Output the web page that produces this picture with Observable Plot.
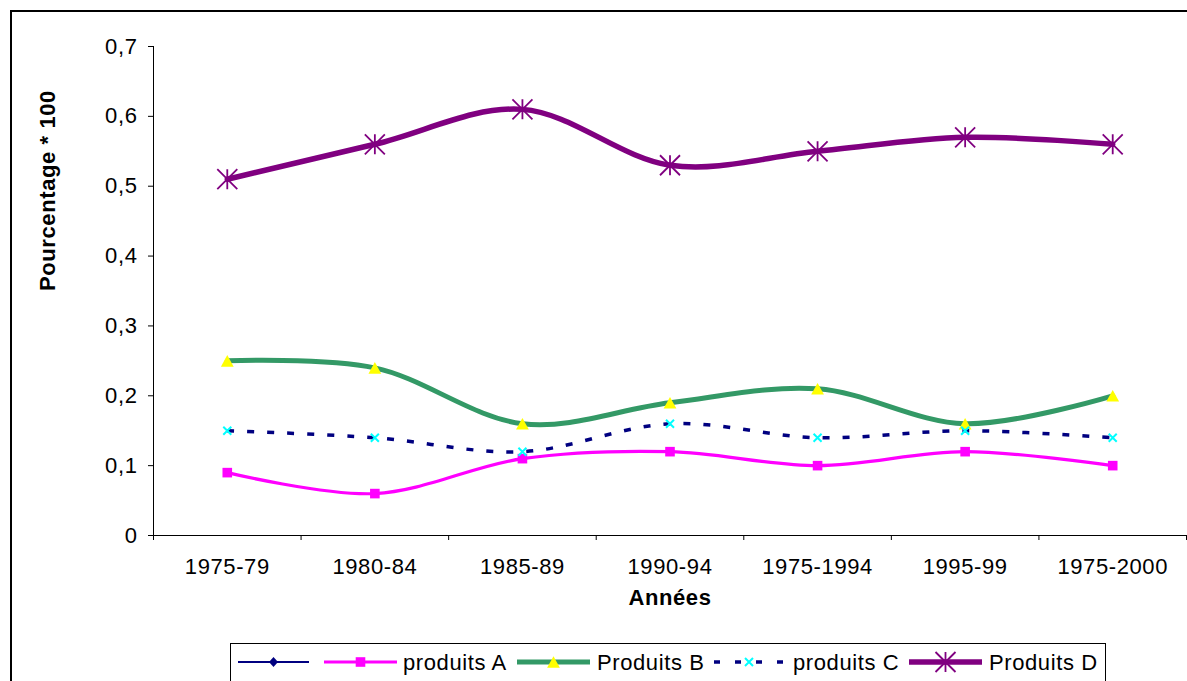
<!DOCTYPE html>
<html><head><meta charset="utf-8">
<script src="https://cdn.jsdelivr.net/npm/d3@7"></script>
<script src="https://cdn.jsdelivr.net/npm/@observablehq/plot@0.6"></script>
<style>
html,body{margin:0;padding:0;background:#fff;}
#chart{position:relative;width:1187px;height:681px;overflow:hidden;}
</style></head><body><div id="chart"></div>
<script>
const categories = ["1975-79","1980-84","1985-89","1990-94","1975-1994","1995-99","1975-2000"];
const produitsA = [0.09,0.06,0.11,0.12,0.10,0.12,0.10];
const produitsB = [0.25,0.24,0.16,0.19,0.21,0.16,0.20];
const produitsC = [0.15,0.14,0.12,0.16,0.14,0.15,0.14];
const produitsD = [0.51,0.56,0.61,0.53,0.55,0.57,0.56];
const yTicks = [0,0.1,0.2,0.3,0.4,0.5,0.6,0.7];
const legendLabels = ["", "produits A", "Produits B", "produits C", "Produits D"];
const colors = {empty:"#000080", A:"#ff00ff", B:"#339966", C:"#000080", D:"#800080"};

const rows = s => s.map((v, i) => ({i: i + 0.5, cat: categories[i], v}));
const half = size => Math.sqrt(size / Math.PI);
const sqSym = {draw(c, s){const h = half(s); c.rect(-h, -h, 2*h, 2*h);}};
const triSym = {draw(c, s){const h = half(s); c.moveTo(0, -h); c.lineTo(1.1*h, h); c.lineTo(-1.1*h, h); c.closePath();}};
const timesSym = {draw(c, s){const h = half(s); c.moveTo(-h, -h); c.lineTo(h, h); c.moveTo(-h, h); c.lineTo(h, -h);}};
const starSym = {draw(c, s){const h = half(s); c.moveTo(-h, -h); c.lineTo(h, h); c.moveTo(-h, h); c.lineTo(h, -h); c.moveTo(0, -h); c.lineTo(0, h);}};
const diaSym = {draw(c, s){const h = half(s); c.moveTo(0, -h); c.lineTo(0.9*h, 0); c.lineTo(0, h); c.lineTo(-0.9*h, 0); c.closePath();}};

const FS = 22;
const plot = Plot.plot({
  width: 1187, height: 681,
  marginLeft: 153, marginRight: 1, marginTop: 46, marginBottom: 146,
  x: {type: "linear", domain: [0, 7]},
  y: {domain: [0, 0.7]},
  style: {fontFamily: "'Liberation Sans', Arial, sans-serif", fontSize: FS + "px", color: "#000", background: "#fff", letterSpacing: "0.6px"},
  marks: [
    Plot.axisY({ticks: yTicks, tickFormat: d => d === 0 ? "0" : d.toFixed(1).replace(".", ","), tickSize: 5, tickPadding: 11, label: null, fontSize: FS, stroke: "#000", strokeOpacity: 1}),
    Plot.axisX({ticks: categories.map((c, i) => i + 0.5), tickFormat: v => categories[Math.round(v - 0.5)], tickSize: 0, tickPadding: 23, label: null, fontSize: FS}),
    Plot.axisX({ticks: d3.range(0, 8), tickFormat: () => "", tickSize: 5, label: null, stroke: "#000", strokeOpacity: 1}),
    Plot.ruleY([0], {stroke: "#000"}),
    Plot.ruleX([0], {stroke: "#000"}),
    Plot.text(["Pourcentage * 100"], {frameAnchor: "left", rotate: -90, dx: -106, fontWeight: "bold", fontSize: FS}),
    Plot.text(["Années"], {frameAnchor: "bottom", dy: 69, fontWeight: "bold", fontSize: FS}),
    Plot.line(rows(produitsA), {x: "i", y: "v", stroke: colors.A, strokeWidth: 3.2, curve: "cardinal"}),
    Plot.dot(rows(produitsA), {x: "i", y: "v", symbol: sqSym, r: 4.8, fill: colors.A, stroke: "none"}),
    Plot.line(rows(produitsB), {x: "i", y: "v", stroke: colors.B, strokeWidth: 5, curve: "cardinal"}),
    Plot.dot(rows(produitsB), {x: "i", y: "v", symbol: triSym, r: 5.8, fill: "#ffff00", stroke: "none"}),
    Plot.line(rows(produitsC), {x: "i", y: "v", stroke: colors.C, strokeWidth: 3.5, strokeDasharray: "7,13", strokeLinecap: "butt", curve: "cardinal"}),
    Plot.dot(rows(produitsC), {x: "i", y: "v", symbol: timesSym, r: 4, fill: "none", stroke: "#00ffff", strokeWidth: 2}),
    Plot.line(rows(produitsD), {x: "i", y: "v", stroke: colors.D, strokeWidth: 5.5, curve: "cardinal"}),
    Plot.dot(rows(produitsD), {x: "i", y: "v", symbol: starSym, r: 10, fill: "none", stroke: colors.D, strokeWidth: 1.8})
  ]
});

const svg = d3.select(plot);
svg.append("rect").attr("x", 11).attr("y", 11).attr("width", 1200).attr("height", 700)
  .attr("fill", "none").attr("stroke", "#000").attr("stroke-width", 2);

const lg = svg.append("g").attr("text-anchor", "start");
lg.append("rect").attr("x", 230.5).attr("y", 643.5).attr("width", 875).attr("height", 60)
  .attr("fill", "#fff").attr("stroke", "#000").attr("stroke-width", 1);
const ly = 662;
const items = [
  {x1: 238, x2: 309, stroke: colors.empty, sw: 2, sym: diaSym, r: 5, fill: colors.empty, sstroke: "none", ssw: 0, label: legendLabels[0], tx: 0},
  {x1: 324, x2: 397, stroke: colors.A, sw: 3.2, sym: sqSym, r: 4.8, fill: colors.A, sstroke: "none", ssw: 0, label: legendLabels[1], tx: 403},
  {x1: 517, x2: 590, stroke: colors.B, sw: 5, sym: triSym, r: 5.8, fill: "#ffff00", sstroke: "none", ssw: 0, label: legendLabels[2], tx: 597},
  {x1: 714, x2: 784, stroke: colors.C, sw: 3.5, dash: "6,15", sym: timesSym, r: 4, fill: "none", sstroke: "#00ffff", ssw: 2, label: legendLabels[3], tx: 793},
  {x1: 909, x2: 982, stroke: colors.D, sw: 5.5, sym: starSym, r: 10, fill: "none", sstroke: colors.D, ssw: 1.8, label: legendLabels[4], tx: 989}
];
items.forEach(it => {
  const l = lg.append("line").attr("x1", it.x1).attr("x2", it.x2).attr("y1", ly).attr("y2", ly)
    .attr("stroke", it.stroke).attr("stroke-width", it.sw);
  if (it.dash) l.attr("stroke-dasharray", it.dash);
  lg.append("path").attr("d", d3.symbol(it.sym, Math.PI * it.r * it.r)())
    .attr("transform", `translate(${(it.x1 + it.x2) / 2},${ly})`)
    .attr("fill", it.fill).attr("stroke", it.sstroke).attr("stroke-width", it.ssw);
  if (it.label) lg.append("text").attr("x", it.tx).attr("y", 670).attr("text-anchor", "start")
    .attr("font-size", FS).attr("fill", "#000").text(it.label);
});

document.getElementById("chart").appendChild(plot);
</script></body></html>
